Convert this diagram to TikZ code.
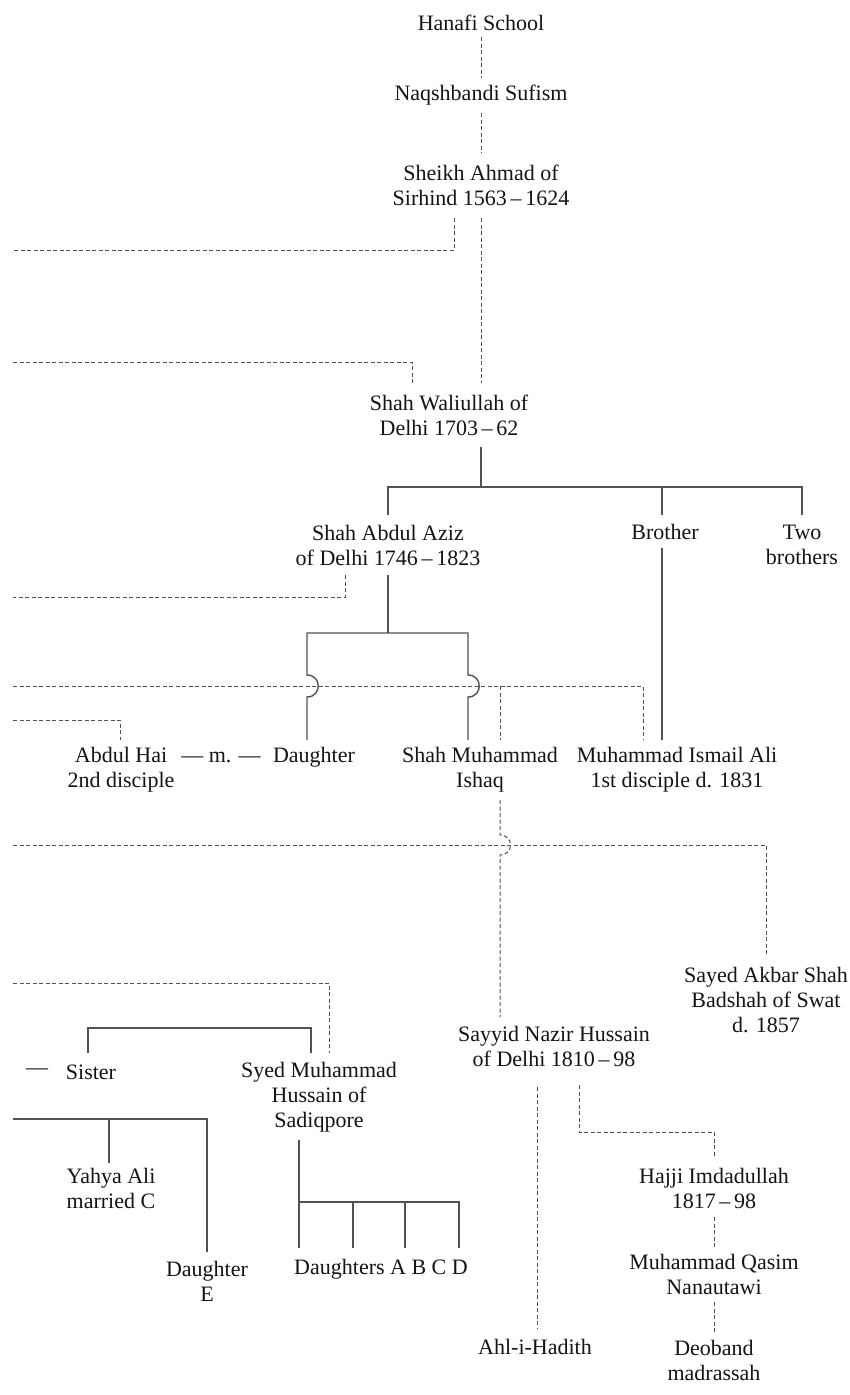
\documentclass[tikz,border=0pt]{standalone}
\usepackage{fontspec}
\setmainfont{Liberation Serif}
\begin{document}
\begin{tikzpicture}[x=1pt,y=-1pt,
  lbl/.style={font=\fontsize{22}{25}\selectfont, align=center, inner sep=0pt, text=black!92},
  dl/.style={draw=black!68, line width=1pt, dash pattern=on 4pt off 2.5pt},
  sl/.style={draw=black!68, line width=1.4pt}]
\fill[white] (0,0) rectangle (849,1395);
\useasboundingbox (0,0) rectangle (849,1395);
% nodes
\node[lbl] (hanafi) at (481,23) {Hanafi School};
\node[lbl] (naqsh) at (481,95) {Naqshbandi Sufism};
\node[lbl] (sheikh) at (481,185) {Sheikh Ahmad of\\Sirhind 1563\,–\,1624};
\node[lbl] (wali) at (449,415) {Shah Waliullah of\\Delhi 1703\,–\,62};
\node[lbl] (aziz) at (388,545) {Shah Abdul Aziz\\of Delhi 1746\,–\,1823};
\node[lbl] (brother) at (665,532) {Brother};
\node[lbl] (twob) at (802,545) {Two\\brothers};
\node[lbl] (abdulhai) at (121,770) {Abdul Hai\\2nd disciple};
\node[lbl] (marr) at (221,757) {— m. —};
\node[lbl] (daughter) at (314,757) {Daughter};
\node[lbl] (ishaq) at (480,770) {Shah Muhammad\\Ishaq};
\node[lbl] (ismail) at (677,770) {Muhammad Ismail Ali\\1st disciple d. 1831};
\node[lbl] (akbar) at (766,1000) {Sayed Akbar Shah\\Badshah of Swat\\d. 1857};
\node[lbl] (nazir) at (554,1046) {Sayyid Nazir Hussain\\of Delhi 1810\,–\,98};
\node[lbl] (sdash) at (37,1072) {—};
\node[lbl] (sister) at (91,1072) {Sister};
\node[lbl] (syed) at (319,1097) {Syed Muhammad\\Hussain of\\Sadiqpore};
\node[lbl] (yahya) at (111,1188) {Yahya Ali\\married C};
\node[lbl] (daue) at (207,1281) {Daughter\\E};
\node[lbl] (daus) at (381,1269) {Daughters A B C D};
\node[lbl] (ahl) at (535,1347) {Ahl-i-Hadith};
\node[lbl] (hajji) at (714,1188) {Hajji Imdadullah\\1817\,–\,98};
\node[lbl] (qasim) at (714,1274) {Muhammad Qasim\\Nanautawi};
\node[lbl] (deoband) at (714,1360) {Deoband\\madrassah};
% free ends at the left edge
\coordinate (e1) at (13,250);
\coordinate (e2) at (13,362);
\coordinate (e3) at (13,597);
\coordinate (e4) at (13,686);
\coordinate (e5) at (13,720);
\coordinate (e6) at (13,845);
\coordinate (e7) at (13,983);
\coordinate (e8) at (13,1119);
% dashed connectors
\draw[dl] (hanafi.south |- 0,37) -- (naqsh.north |- 0,78);
\draw[dl] (naqsh.south |- 0,113) -- (sheikh.north |- 0,153);
\draw[dl] (sheikh.south |- 0,218) -- (481,383);
\draw[dl] (454,218) -- (454,250) -- (e1);
\draw[dl] (e2) -- (412,362) -- (412,383);
\draw[dl] (345,575) -- (345,597) -- (e3);
\draw[dl] (e4) -- (643,686) -- (643,740);
\draw[dl] (500,686) -- (500,740);
\draw[dl] (e5) -- (120,720) -- (120,740);
\draw[dl] (500,800) -- (500,835) .. controls (514,835) and (514,855) .. (500,855) -- (500,1017);
\draw[dl] (e6) -- (766,845) -- (766,955);
\draw[dl] (e7) -- (329,983) -- (329,1053);
\draw[dl] (537,1087) -- (537,1328);
\draw[dl] (579,1085) -- (579,1132) -- (714,1132) -- (hajji.north |- 0,1158);
\draw[dl] (hajji.south |- 0,1217) -- (qasim.north |- 0,1247);
\draw[dl] (qasim.south |- 0,1302) -- (deoband.north |- 0,1332);
% solid connectors
\draw[sl] (481,447) -- (481,487);
\draw[sl] (388,515) -- (388,487) -- (802,487) -- (802,515);
\draw[sl] (662,487) -- (662,515);
\draw[sl] (662,548) -- (662,740);
\draw[sl] (388,575) -- (388,633);
\draw[sl] (307,740) -- (307,697) .. controls (322,697) and (322,675) .. (307,675) -- (307,633) -- (468,633)
  -- (468,675) .. controls (483,675) and (483,697) .. (468,697) -- (468,740);
\draw[sl] (88,1053) -- (88,1028) -- (311,1028) -- (311,1053);
\draw[sl] (e8) -- (207,1119) -- (207,1252);
\draw[sl] (109,1119) -- (109,1163);
\draw[sl] (299,1140) -- (299,1248);
\draw[sl] (299,1202) -- (459,1202) -- (459,1248);
\draw[sl] (353,1202) -- (353,1248);
\draw[sl] (405,1202) -- (405,1248);
\end{tikzpicture}
\end{document}
